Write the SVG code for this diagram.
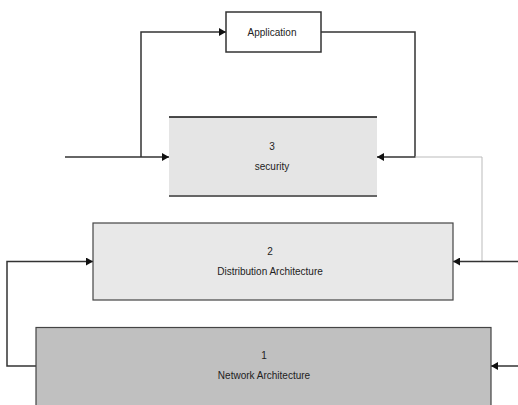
<svg xmlns="http://www.w3.org/2000/svg" width="518" height="405" viewBox="0 0 518 405">
<defs>
<marker id="ah" markerWidth="8" markerHeight="8" refX="7" refY="4" orient="auto" markerUnits="userSpaceOnUse">
<path d="M0,0 L7,4 L0,8 Z" fill="#111"/>
</marker>
<style>
.t{font-family:"Liberation Sans",Arial,sans-serif;font-size:10px;fill:#222;text-anchor:middle}
.c{fill:none;stroke:#333;stroke-width:1.5}
.thin{fill:none;stroke:#bbb;stroke-width:1}
</style>
</defs>
<rect width="518" height="405" fill="#fff"/>
<g id="connectors">
<path class="c" d="M141,157 V32 H226" marker-end="url(#ah)"/>
<path class="c" d="M65,157 H169" marker-end="url(#ah)"/>
<path class="c" d="M321,32 H415 V157 H377" marker-end="url(#ah)"/>
<path class="thin" d="M415,157 H482 V261"/>
<path class="c" d="M518,261.5 H453" marker-end="url(#ah)"/>
<path class="c" d="M36,366 H7 V261.5 H93" marker-end="url(#ah)"/>
<path class="c" d="M518,366 H491" marker-end="url(#ah)"/>
</g>
<g id="application">
<rect x="226" y="12" width="95" height="40" fill="#fff" stroke="#333" stroke-width="1.5"/>
<text class="t" x="272" y="36">Application</text>
</g>
<g id="security">
<rect x="169" y="117" width="208" height="79" fill="#e5e5e5"/>
<line x1="169" y1="117" x2="377" y2="117" stroke="#111" stroke-width="1.5"/>
<line x1="169" y1="196" x2="377" y2="196" stroke="#666" stroke-width="2"/>
<text class="t" x="272" y="150">3</text>
<text class="t" x="272" y="170">security</text>
</g>
<g id="distribution">
<rect x="93" y="223" width="360" height="77" fill="#e8e8e8" stroke="#444" stroke-width="1.2"/>
<text class="t" x="270" y="255">2</text>
<text class="t" x="270" y="275">Distribution Architecture</text>
</g>
<g id="network">
<rect x="36" y="327.5" width="455" height="90" fill="#c0c0c0" stroke="#444" stroke-width="1.2"/>
<text class="t" x="264" y="359">1</text>
<text class="t" x="264" y="379">Network Architecture</text>
</g>
</svg>
